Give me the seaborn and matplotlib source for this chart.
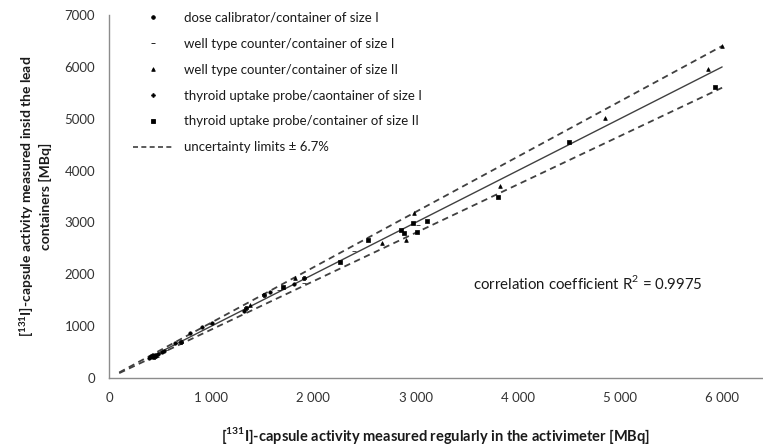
import numpy as np
import pandas as pd
import matplotlib
matplotlib.use("Agg")
import matplotlib.pyplot as plt
from matplotlib.lines import Line2D
from matplotlib.ticker import FuncFormatter, MultipleLocator
import seaborn as sns

# ---------------- data ----------------
series_names = [
    "dose calibrator/container of size I",
    "well type counter/container of size I",
    "well type counter/container of size II",
    "thyroid uptake probe/caontainer of size I",
    "thyroid uptake probe/container of size II",
]
dose_x = [390, 400, 410, 420, 430, 440, 450, 460, 480, 520, 540, 650, 790, 910, 1010, 1320, 1580, 1810]
dose_y = [380, 410, 430, 400, 440, 420, 450, 430, 460, 500, 520, 670, 860, 990, 1070, 1300, 1660, 1810]
well1_x = [420, 470, 560, 1000, 1660, 1910, 2400, 3020]
well1_y = [390, 410, 540, 1040, 1700, 1830, 2440, 2950]
well2_x = [1382, 1820, 2676, 2902, 2980, 3827, 4856, 5866, 6000]
well2_y = [1410, 1930, 2608, 2666, 3188, 3696, 5017, 5951, 6400]
thy1_x = [440, 700, 1340, 1910, 1520]
thy1_y = [400, 700, 1350, 1930, 1600]
thy2_x = [1700, 2265, 2539, 2853, 2882, 2971, 3010, 3108, 3807, 4500, 5934]
thy2_y = [1760, 2228, 2666, 2859, 2801, 2995, 2821, 3033, 3491, 4546, 5609]

uncertainty = 0.067
limit_x = [100, 6000]
fit_range = [400, 6000]
r2_text = "correlation coefficient R$^2$ = 0.9975"
x_label = r"[$^{\mathbf{131}}$I]-capsule activity measured regularly in the activimeter [MBq]"
y_label = "[$^{\\mathbf{131}}$I]-capsule activity measured insid the lead\ncontainers [MBq]"

# ---------------- figure ----------------
sns.set_style("white")
plt.rcParams["font.family"] = ["Lato", "DejaVu Sans"]
plt.rcParams["mathtext.fontset"] = "custom"
plt.rcParams["mathtext.rm"] = "Lato"
plt.rcParams["mathtext.bf"] = "Lato:bold"

fig = plt.figure(figsize=(7.63, 4.46), dpi=100)
ax = fig.add_axes([109 / 763, 1 - 378 / 446, 1 - 109 / 763, (378 - 15) / 446])

frames = []
for name, xs, ys in [
    (series_names[0], dose_x, dose_y),
    (series_names[1], well1_x, well1_y),
    (series_names[2], well2_x, well2_y),
    (series_names[3], thy1_x, thy1_y),
    (series_names[4], thy2_x, thy2_y),
]:
    frames.append(pd.DataFrame({"x": xs, "y": ys, "series": name}))
df = pd.concat(frames, ignore_index=True)

markers = {
    series_names[0]: "o",
    series_names[1]: "_",
    series_names[2]: "^",
    series_names[3]: "P",
    series_names[4]: "s",
}
sizes_map = {series_names[0]: 6, series_names[1]: 10, series_names[2]: 7,
             series_names[3]: 5, series_names[4]: 7}
for name in series_names:
    sub = df[df["series"] == name]
    sns.scatterplot(data=sub, x="x", y="y", marker=markers[name], s=sizes_map[name],
                    color="black", edgecolor="black", linewidth=0.5, ax=ax, legend=False, zorder=3)

# regression line
slope, intercept = np.polyfit(df["x"], df["y"], 1)
fx = np.array(fit_range, dtype=float)
ax.plot(fx, slope * fx + intercept, color="#404040", lw=1.0, zorder=2)

# uncertainty limits
lx = np.array(limit_x, dtype=float)
ax.plot(lx, lx * (1 + uncertainty), color="#404040", lw=1.3, ls=(0, (3.5, 2.5)), zorder=2)
ax.plot(lx, lx * (1 - uncertainty), color="#404040", lw=1.3, ls=(0, (3.5, 2.5)), zorder=2)

ax.set_xlim(0, 6400)
ax.set_ylim(0, 7000)
ax.xaxis.set_major_locator(MultipleLocator(1000))
ax.yaxis.set_major_locator(MultipleLocator(1000))
ax.xaxis.set_major_formatter(FuncFormatter(lambda v, p: f"{int(v):,}".replace(",", " ")))
ax.yaxis.set_major_formatter(FuncFormatter(lambda v, p: f"{int(v)}"))

for s in ["top", "right"]:
    ax.spines[s].set_visible(False)
for s in ["left", "bottom"]:
    ax.spines[s].set_color("#8c8c8c")
    ax.spines[s].set_linewidth(1.0)
ax.tick_params(axis="both", which="major", direction="out", length=5, width=1,
               color="#8c8c8c", labelsize=9.5, labelcolor="#333333", pad=5)

ax.set_xlabel(x_label, fontsize=10.5, fontweight="bold", color="#1a1a1a", labelpad=15)
ax.set_ylabel(y_label, fontsize=10, fontweight="bold", color="#1a1a1a", labelpad=9,
              linespacing=1.25)

ax.text(473 / 763, 1 - 283 / 446, r2_text, transform=fig.transFigure, fontsize=10.8,
        color="#1a1a1a", va="center", ha="left")

handles = [Line2D([], [], ls="none", marker=markers[n], markersize=2.6 if n != series_names[1] else 3.5,
                  color="black", markeredgewidth=0.6) for n in series_names]
handles.append(Line2D([], [], color="#404040", lw=1.2, ls=(0, (3, 2))))
labels = series_names + ["uncertainty limits \u00b1 6.7%"]
ax.legend(handles, labels, loc="upper left", bbox_to_anchor=(133 / 763, 1 - 12 / 446),
          bbox_transform=fig.transFigure, frameon=False, fontsize=9.5,
          handlelength=3.0, handletextpad=0.85, labelspacing=1.05, borderpad=0,
          borderaxespad=0, labelcolor="#1a1a1a")

fig.savefig("out.png", dpi=100)
